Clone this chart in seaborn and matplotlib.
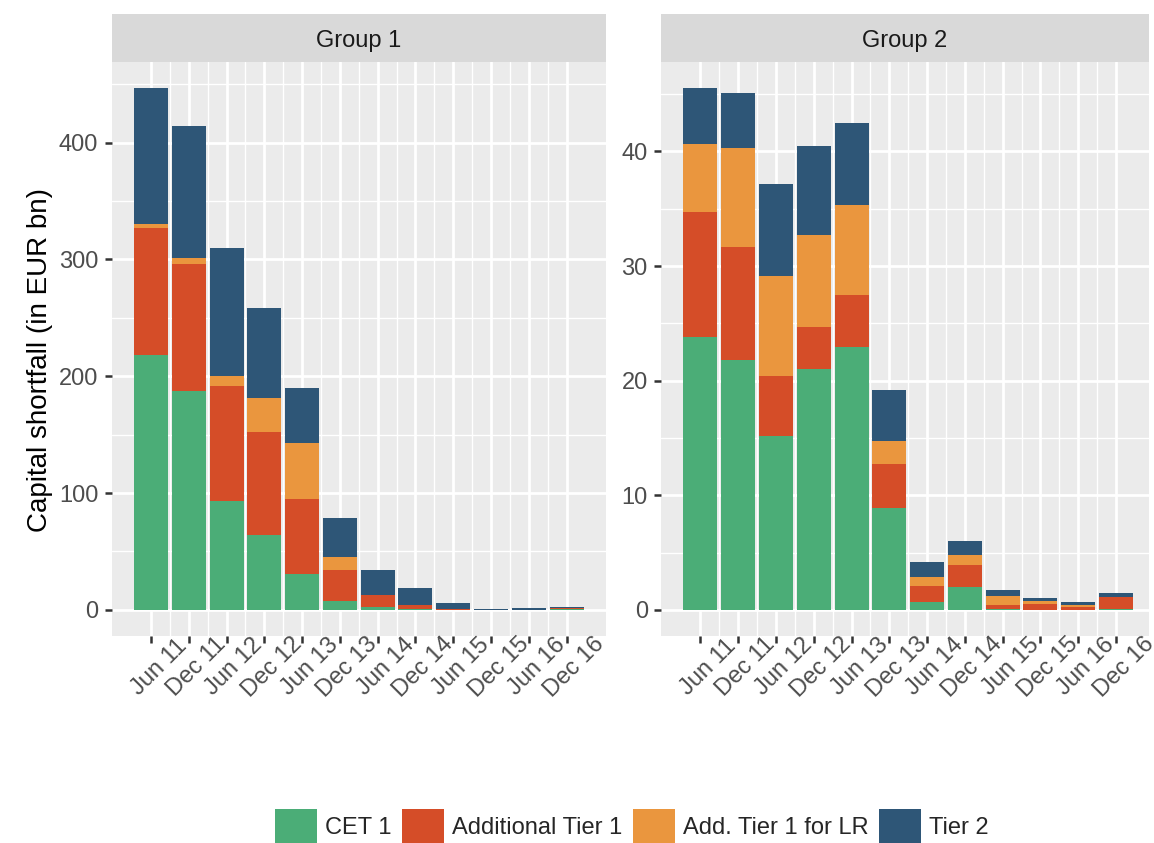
import numpy as np
import pandas as pd
import matplotlib
matplotlib.use("Agg")
import matplotlib.pyplot as plt
from matplotlib.patches import Patch
from matplotlib.ticker import FixedLocator, MultipleLocator
import seaborn as sns

# ---- data -------------------------------------------------------------
periods = ["Jun 11", "Dec 11", "Jun 12", "Dec 12", "Jun 13", "Dec 13",
           "Jun 14", "Dec 14", "Jun 15", "Dec 15", "Jun 16", "Dec 16"]
components = ["CET 1", "Additional Tier 1", "Add. Tier 1 for LR", "Tier 2"]
groups = ["Group 1", "Group 2"]

# Capital shortfall by component, EUR bn
g1_cet1 = [218, 187, 93, 64, 31, 7.4, 2.4, 0.9, 0.2, 0.1, 0.1, 0.5]
g1_at1 = [109, 109, 99, 88.5, 64, 27, 10.3, 3.5, 0.3, 0.1, 0.1, 0.8]
g1_lr = [3.5, 5, 8, 29, 48, 10.6, 0, 0, 0, 0.1, 0.1, 0.4]
g1_t2 = [116, 113, 110, 77, 47, 33.6, 21.3, 14, 5.4, 0.6, 1.0, 0.8]

g2_cet1 = [23.85, 21.8, 15.2, 21.0, 22.9, 8.9, 0.7, 2.0, 0.05, 0.03, 0.03, 0.05]
g2_at1 = [10.9, 9.9, 5.2, 3.7, 4.6, 3.8, 1.4, 1.9, 0.35, 0.45, 0.21, 1.1]
g2_lr = [5.9, 8.6, 8.7, 8.0, 7.8, 2.0, 0.8, 0.9, 0.8, 0.3, 0.18, 0.0]
g2_t2 = [4.9, 4.8, 8.1, 7.8, 7.2, 4.5, 1.25, 1.2, 0.55, 0.27, 0.28, 0.3]

colors = ["#4BAD77", "#D54D28", "#EA963E", "#2E5677"]

series = {
    "Group 1": [g1_cet1, g1_at1, g1_lr, g1_t2],
    "Group 2": [g2_cet1, g2_at1, g2_lr, g2_t2],
}

rows = []
for grp, vals in series.items():
    for comp, arr in zip(components, vals):
        for i, v in enumerate(arr):
            rows.append({"group": grp, "pos": i + 1, "component": comp, "value": v})
df = pd.DataFrame(rows)

# ---- style ------------------------------------------------------------
sns.set_theme(style="darkgrid")
plt.rcParams["font.family"] = ["Liberation Sans", "DejaVu Sans"]

W, H = 1154, 843
fig = plt.figure(figsize=(W / 100, H / 100), dpi=100)
fig.patch.set_facecolor("white")


def fig_rect(x0, y0, x1, y1):
    """Pixel box (top-left origin) -> figure fraction rect."""
    return [x0 / W, 1 - y1 / H, (x1 - x0) / W, (y1 - y0) / H]


panel_top, panel_bot = 62, 636
strip_top = 14
panels = {"Group 1": (111.5, 606), "Group 2": (661, 1149)}
unit = (606 - 111.5) / 13.09
ymax = {"Group 1": (468.9, 100, 50), "Group 2": (47.8, 10, 5)}

tick_col = "#4D4D4D"

for grp in groups:
    x0, x1 = panels[grp]
    ax = fig.add_axes(fig_rect(x0, panel_top, x1, panel_bot))
    ax.set_facecolor("#EBEBEB")
    sub = df[df["group"] == grp]
    sns.histplot(
        data=sub, x="pos", weights="value", hue="component",
        hue_order=components[::-1], palette=colors[::-1],
        multiple="stack", discrete=True, shrink=0.9,
        alpha=1, linewidth=0, legend=False, ax=ax,
    )
    top, major, minor = ymax[grp]
    ax.set_ylim(-top / 21, top)
    ax.set_xlim(-0.045, -0.045 + (x1 - x0) / unit)
    ax.set_xlabel("")
    ax.set_ylabel("")
    ax.set_axisbelow(True)
    ax.yaxis.set_major_locator(MultipleLocator(major))
    ax.yaxis.set_minor_locator(MultipleLocator(minor))
    ax.set_xticks(np.arange(1, 13))
    ax.xaxis.set_minor_locator(FixedLocator(np.arange(1.5, 12, 1.0)))
    ax.set_xticklabels(periods, rotation=45, ha="center", va="top",
                       rotation_mode="anchor")
    ax.grid(which="major", color="white", linewidth=2.0)
    ax.grid(which="minor", color="white", linewidth=1.0)
    for s in ax.spines.values():
        s.set_visible(False)
    ax.tick_params(which="major", length=5.3, width=1.8, color="#333333",
                   labelsize=17, labelcolor=tick_col, pad=4.2,
                   bottom=True, left=True)
    ax.tick_params(axis="x", which="major", pad=11.4)
    ax.tick_params(which="minor", length=0)

    # facet strip
    sax = fig.add_axes(fig_rect(x0, strip_top, x1, panel_top))
    sax.set_facecolor("#D9D9D9")
    sax.set_xticks([])
    sax.set_yticks([])
    for s in sax.spines.values():
        s.set_visible(False)
    sax.text(0.5, 0.43, grp, ha="center", va="center", fontsize=17,
             color="#1A1A1A", transform=sax.transAxes)

fig.text(40 / W, 1 - 360 / H, "Capital shortfall (in EUR bn)", rotation=90,
         ha="center", va="center", fontsize=20, color="black")

handles = [Patch(facecolor=c, edgecolor="none", label=l)
           for c, l in zip(colors, components)]
fig.legend(handles=handles, loc="center", bbox_to_anchor=(632 / W, 1 - 826 / H),
           ncol=4, frameon=False, fontsize=17, handlelength=1.78,
           handleheight=1.78, handletextpad=0.34, columnspacing=0.45,
           borderaxespad=0, borderpad=0)

fig.savefig("out.png", dpi=100, facecolor="white")
